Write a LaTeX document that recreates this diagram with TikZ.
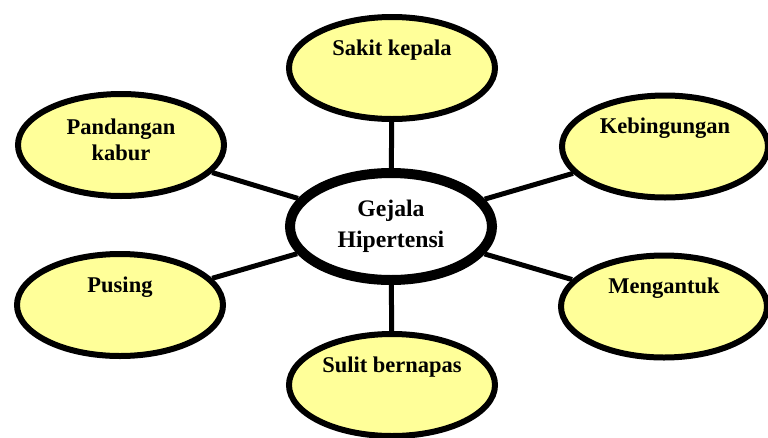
\documentclass[tikz,border=0pt]{standalone}
\usepackage{fontspec}
\setmainfont{Liberation Serif}
\usepackage{tikz}
\usetikzlibrary{shapes.geometric}
\definecolor{kuning}{RGB}{255,255,153}

\begin{document}
\begin{tikzpicture}[x=1pt,y=-1pt,
    gejala/.style={ellipse,draw,line width=6pt,fill=kuning,minimum width=206pt,minimum height=102pt,inner sep=0pt,align=center,
        font=\bfseries\fontsize{22.5}{26}\selectfont,text height=16pt,text depth=42pt},
    pusat/.style={ellipse,draw,line width=10pt,fill=white,minimum width=202pt,minimum height=107pt,inner sep=0pt,align=center,
        font=\bfseries\fontsize{23.7}{31}\selectfont},
    garis/.style={line width=5pt}]
    \useasboundingbox (0,0) rectangle (768,437);
    \node[pusat] (hub) at (391,226.5) {Gejala\\Hipertensi}; % tengah
    \node[gejala] (kepala) at (392,68) {Sakit kepala};
    \node[gejala,text height=45pt,text depth=15pt] (kabur) at (121,145) {Pandangan\\kabur};
    \node[gejala] (bingung) at (665,146.5) {Kebingungan};
    \node[gejala] (pusing) at (120,305) {Pusing};
    \node[gejala] (kantuk) at (664,306.5) {Mengantuk};
    \node[gejala] (napas) at (392,385) {Sulit bernapas};
    \foreach \n in {kepala,kabur,bingung,pusing,kantuk,napas}
        \draw[garis] (hub) -- (\n); % garis penghubung
\end{tikzpicture}
\end{document}
